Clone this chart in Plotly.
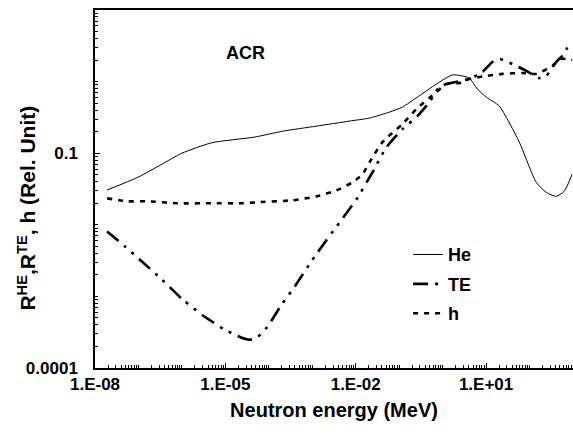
import plotly.graph_objects as go

# Neutron energy (MeV) and relative values
he_E = [1.9e-8, 9.7e-8, 3.46e-7, 1.0e-6, 4.9e-6, 4.7e-5, 2.1e-4, 1.26e-3, 7.2e-3,
        0.0208, 0.060, 0.119, 0.263, 0.719, 1.67, 2.84, 4.12, 6.3, 10.1, 20.1, 58,
        142, 242, 411, 627, 957]
he_v = [0.0306, 0.0461, 0.0702, 0.100, 0.140, 0.168, 0.203, 0.239, 0.281,
        0.310, 0.375, 0.441, 0.608, 0.924, 1.24, 1.20, 1.12, 0.787, 0.608, 0.455, 0.143,
        0.0393, 0.0284, 0.025, 0.0294, 0.0508]

te_E = [1.9e-8, 4.89e-8, 1.2e-7, 3.46e-7, 1.05e-6, 3.37e-6, 9.7e-6, 2.38e-5, 3.64e-5,
        5.56e-5, 8.9e-5, 1.98e-4, 3.93e-4, 1.13e-3, 4.25e-3, 0.0104, 0.0243, 0.051,
        0.119, 0.263, 0.497, 0.843, 1.22, 4.12, 8.19, 13.9, 20.1, 40.1, 84, 167, 242,
        411, 627, 817]
te_v = [8.09e-3, 4.98e-3, 3.07e-3, 1.72e-3, 9.0e-4, 5.2e-4, 3.43e-4, 2.65e-4, 2.48e-4,
        2.73e-4, 3.66e-4, 7.7e-4, 1.37e-3, 3.6e-3, 0.0108, 0.0227, 0.0542, 0.121,
        0.217, 0.330, 0.518, 0.840, 0.924, 1.09, 1.36, 1.88, 2.07, 1.76, 1.41, 1.12, 1.20,
        1.88, 2.44, 3.48]

h_E = [1.9e-8, 5.73e-8, 1.65e-7, 8.07e-7, 4.88e-6, 2.38e-5, 4.74e-5, 3.54e-4, 1.26e-3,
       3.62e-3, 8.45e-3, 0.0143, 0.0208, 0.0413, 0.119, 0.249, 0.719, 1.22, 2.43, 4.12,
       10.1, 23.6, 67.9, 142, 332, 535, 957]
h_v = [0.0234, 0.0213, 0.0213, 0.0200, 0.0200, 0.0200, 0.0206, 0.0220, 0.0250,
       0.0303, 0.0393, 0.0508, 0.0748, 0.143, 0.255, 0.413, 0.714, 0.924, 0.955, 1.09,
       1.20, 1.28, 1.32, 1.28, 1.65, 2.07, 2.01]

x_tickvals = [1e-8, 1e-5, 1e-2, 1e1]
x_ticktext = ["1.E-08", "1.E-05", "1.E-02", "1.E+01"]
y_tickvals = [1e-4, 1e-1]
y_ticktext = ["0.0001", "0.1"]

FONT = "Arial, Liberation Sans, sans-serif"

fig = go.Figure()
fig.add_trace(go.Scatter(x=he_E, y=he_v, mode="lines", name="He", legendgroup="a",
                         line=dict(color="black", width=1, shape="spline", smoothing=0.6)))
fig.add_trace(go.Scatter(x=te_E, y=te_v, mode="lines", name="TE", legendgroup="b",
                         line=dict(color="black", width=2.6, shape="spline", smoothing=0.6,
                                   dash="15px,7px,3px,7px,3px,7px")))
fig.add_trace(go.Scatter(x=h_E, y=h_v, mode="lines", name="h", legendgroup="c",
                         line=dict(color="black", width=2.6, shape="spline", smoothing=0.6,
                                   dash="5px,6px")))

fig.update_layout(
    width=573, height=435,
    margin=dict(l=95, r=0, t=10, b=67),
    paper_bgcolor="white", plot_bgcolor="white",
    font=dict(family=FONT, size=17, color="black"),
    showlegend=True,
    legend=dict(x=0.655, y=0.368, xanchor="left", yanchor="top",
                bgcolor="rgba(0,0,0,0)", borderwidth=0, tracegroupgap=3,
                font=dict(family=FONT, size=18, color="black", weight="bold")),
    annotations=[
        dict(text="<b>ACR</b>", x=0.27, y=0.913, xref="paper", yref="paper",
             showarrow=False, font=dict(family=FONT, size=18, color="black")),
        dict(text="<b>R<sup>HE</sup>,R<sup>TE</sup>, h (Rel. Unit)</b>", textangle=-90,
             x=-0.143, y=0.447, xref="paper", yref="paper", showarrow=False,
             xanchor="center", yanchor="middle",
             font=dict(family=FONT, size=21, color="black")),
    ],
)

fig.update_xaxes(
    type="log", range=[-8, 3.0],
    tickmode="array", tickvals=x_tickvals, ticktext=x_ticktext,
    ticks="inside", ticklen=5, tickwidth=1, tickcolor="black",
    minor=dict(ticks="inside", ticklen=3, tickcolor="black", dtick="D1", showgrid=False),
    showline=True, linecolor="black", linewidth=1.5, mirror=True,
    showgrid=False, zeroline=False,
    tickfont=dict(family=FONT, size=17, color="black", weight="bold"),
    title=dict(text="<b>Neutron energy (MeV)</b>", standoff=10,
               font=dict(family=FONT, size=20, color="black")),
)
fig.update_yaxes(
    type="log", range=[-4, 1],
    tickmode="array", tickvals=y_tickvals, ticktext=y_ticktext,
    ticks="inside", ticklen=5, tickwidth=1, tickcolor="black",
    minor=dict(ticks="inside", ticklen=3, tickcolor="black", dtick="D1", showgrid=False),
    showline=True, linecolor="black", linewidth=1.5, mirror=False,
    showgrid=False, zeroline=False, ticklabelstandoff=12,
    tickfont=dict(family=FONT, size=17, color="black", weight="bold"),
)

fig.write_html("out.html")
